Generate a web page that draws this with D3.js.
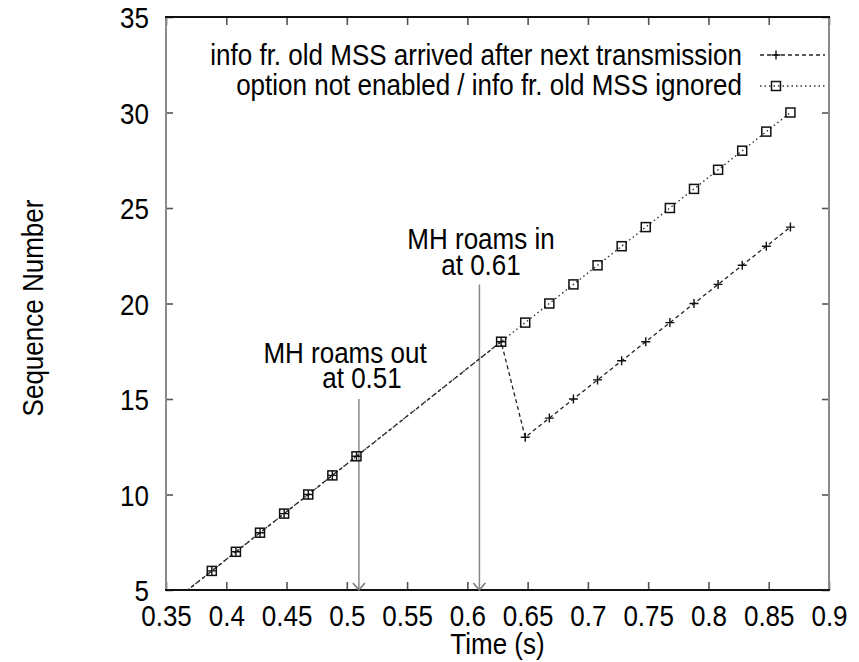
<!DOCTYPE html>
<html>
<head>
<meta charset="utf-8">
<script src="https://cdn.jsdelivr.net/npm/d3@7"></script>
<style>
  html, body { margin: 0; padding: 0; background: #fff; }
  text { font-family: "Liberation Sans", Arial, Helvetica, sans-serif; fill: #000; }
</style>
</head>
<body>
<svg id="chart" width="859" height="662"></svg>
<script>
// ---- data ----
const timesEarly = [0.348, 0.388, 0.408, 0.428, 0.448, 0.468, 0.488, 0.508, 0.628];
const seqEarly   = [4, 6, 7, 8, 9, 10, 11, 12, 18];
const timesLate  = [0.648, 0.668, 0.688, 0.708, 0.728, 0.748, 0.768, 0.788, 0.808, 0.828, 0.848, 0.868];
const seqArrivedLate = [13, 14, 15, 16, 17, 18, 19, 20, 21, 22, 23, 24];
const seqIgnored     = [19, 20, 21, 22, 23, 24, 25, 26, 27, 28, 29, 30];
const seriesNames = ["info fr. old MSS arrived after next transmission",
                     "option not enabled / info fr. old MSS ignored"];
const xTicks = [0.35, 0.4, 0.45, 0.5, 0.55, 0.6, 0.65, 0.7, 0.75, 0.8, 0.85, 0.9];
const xTickLabels = ["0.35","0.4","0.45","0.5","0.55","0.6","0.65","0.7","0.75","0.8","0.85","0.9"];
const yTicks = [5, 10, 15, 20, 25, 30, 35];
const yTickLabels = ["5","10","15","20","25","30","35"];
const arrowTimes = [0.51, 0.61];
const arrowTops  = [15, 21];
const annTexts = ["MH roams out", "at 0.51", "MH roams in", "at 0.61"];
const annT     = [0.4985, 0.5126, 0.6113, 0.6113];
const annV     = [16.9, 15.58, 22.85, 21.49];
const xTitle = "Time (s)";
const yTitle = "Sequence Number";

// ---- build series ----
const s1 = timesEarly.map((t,i)=>({t, v:seqEarly[i]})).concat(timesLate.map((t,i)=>({t, v:seqArrivedLate[i]})));
const s2 = timesEarly.map((t,i)=>({t, v:seqEarly[i]})).concat(timesLate.map((t,i)=>({t, v:seqIgnored[i]})));

const svg = d3.select("#chart");
const L = 166, R = 829, T = 17, B = 590;
const x = d3.scaleLinear().domain([0.35, 0.9]).range([L, R]);
const y = d3.scaleLinear().domain([5, 35]).range([B, T]);
const SY = 1.1; // vertical stretch of glyphs
const FS = 26;

function addText(g, px, py, str, anchor, rot) {
  return g.append("text")
    .attr("transform", `translate(${px},${py})` + (rot ? ` rotate(${rot})` : "") + ` scale(1,${SY})`)
    .attr("text-anchor", anchor || "start")
    .attr("font-size", FS)
    .text(str);
}

svg.append("defs").append("clipPath").attr("id","plotclip")
  .append("rect").attr("x", L).attr("y", T).attr("width", R-L).attr("height", B-T);

// ---- axes ----
const axB = svg.append("g").attr("transform", `translate(0,${B})`)
  .call(d3.axisBottom(x).tickValues(xTicks).tickSize(-8).tickFormat((d,i)=>xTickLabels[i]));
axB.selectAll("text").attr("y", null).attr("dy", null)
  .attr("transform", `translate(0,35.5) scale(1,${SY})`).attr("font-size", FS);
const axT = svg.append("g").attr("transform", `translate(0,${T})`)
  .call(d3.axisTop(x).tickValues(xTicks).tickSize(-8).tickFormat(""));
const axL = svg.append("g").attr("transform", `translate(${L},0)`)
  .call(d3.axisLeft(y).tickValues(yTicks).tickSize(-7).tickFormat((d,i)=>yTickLabels[i]));
axL.selectAll("text").attr("x", null).attr("dy", "0.38em")
  .attr("transform", `translate(-17,0) scale(1,${SY})`).attr("font-size", FS);
const axR = svg.append("g").attr("transform", `translate(${R},0)`)
  .call(d3.axisRight(y).tickValues(yTicks).tickSize(-7).tickFormat(""));
[axB, axT, axL, axR].forEach(a => {
  a.select(".domain").remove();
  a.attr("font-family", null).attr("font-size", null);
  a.selectAll(".tick line").attr("stroke", "#555").attr("stroke-width", 1.6);
  a.selectAll("text").style("fill", "#000");
});
// x ticks at 0.35 and 0.9 coincide with frame: hidden naturally
// frame
svg.append("line").attr("x1", L).attr("x2", L).attr("y1", T).attr("y2", B).attr("stroke", "#8a8a8a").attr("stroke-width", 2);
svg.append("line").attr("x1", R).attr("x2", R).attr("y1", T).attr("y2", B).attr("stroke", "#8a8a8a").attr("stroke-width", 2);
svg.append("line").attr("x1", L-1).attr("x2", R+1).attr("y1", T).attr("y2", T).attr("stroke", "#111").attr("stroke-width", 1.8);
svg.append("line").attr("x1", L-1).attr("x2", R+1).attr("y1", B).attr("y2", B).attr("stroke", "#111").attr("stroke-width", 2);

// axis titles
addText(svg, (L+R)/2, 654, xTitle, "middle");
addText(svg, 43, 308, yTitle, "middle", -90);

// ---- annotation arrows ----
const ann = svg.append("g");
arrowTimes.forEach((t,i) => {
  const px = x(t);
  ann.append("line").attr("x1", px).attr("x2", px).attr("y1", y(arrowTops[i])).attr("y2", y(5))
    .attr("stroke", "#888").attr("stroke-width", 1.5);
  ann.append("path").attr("d", `M${px-6},${y(5)-7} L${px},${y(5)} L${px+6},${y(5)-7}`)
    .attr("fill", "none").attr("stroke", "#777").attr("stroke-width", 1.5);
});
annTexts.forEach((s,i) => addText(ann, x(annT[i]), y(annV[i]), s, "middle"));

// ---- series ----
const line = d3.line().x(d => x(d.t)).y(d => y(d.v));
const plot = svg.append("g").attr("clip-path", "url(#plotclip)");
plot.append("path").datum(s1).attr("d", line).attr("fill", "none")
  .attr("stroke", "#222").attr("stroke-width", 1.3).attr("stroke-dasharray", "4,3");
plot.append("path").datum(s2).attr("d", line).attr("fill", "none")
  .attr("stroke", "#333").attr("stroke-width", 1.4).attr("stroke-dasharray", "1.5,3");

function plusPath(cx, cy, r) { return `M${cx-r},${cy} H${cx+r} M${cx},${cy-r} V${cy+r}`; }
const inRange = d => d.v >= 5 && d.v <= 35 && d.t >= 0.35 && d.t <= 0.9;
svg.append("g").selectAll("path.sq").data(s2.filter(inRange)).join("rect")
  .attr("x", d => x(d.t)-4.5).attr("y", d => y(d.v)-4.5).attr("width", 9).attr("height", 9)
  .attr("fill", "none").attr("stroke", "#111").attr("stroke-width", 1.5);
svg.append("g").selectAll("path.pl").data(s1.filter(inRange)).join("path")
  .attr("d", d => plusPath(x(d.t), y(d.v), 4.5))
  .attr("fill", "none").attr("stroke", "#111").attr("stroke-width", 1.4);

// ---- legend ----
const leg = svg.append("g");
const legY = [55, 86];
const legBase = [65, 95];
seriesNames.forEach((s,i) => addText(leg, 742, legBase[i], s, "end"));
leg.append("line").attr("x1", 760).attr("x2", 825).attr("y1", legY[0]).attr("y2", legY[0])
  .attr("stroke", "#222").attr("stroke-width", 1.3).attr("stroke-dasharray", "4,3");
leg.append("path").attr("d", plusPath(776, legY[0], 4.5)).attr("stroke", "#111").attr("stroke-width", 1.4);
leg.append("line").attr("x1", 760).attr("x2", 825).attr("y1", legY[1]).attr("y2", legY[1])
  .attr("stroke", "#333").attr("stroke-width", 1.4).attr("stroke-dasharray", "1.5,3");
leg.append("rect").attr("x", 776-4.5).attr("y", legY[1]-4.5).attr("width", 9).attr("height", 9)
  .attr("fill", "none").attr("stroke", "#111").attr("stroke-width", 1.5);
</script>
</body>
</html>
